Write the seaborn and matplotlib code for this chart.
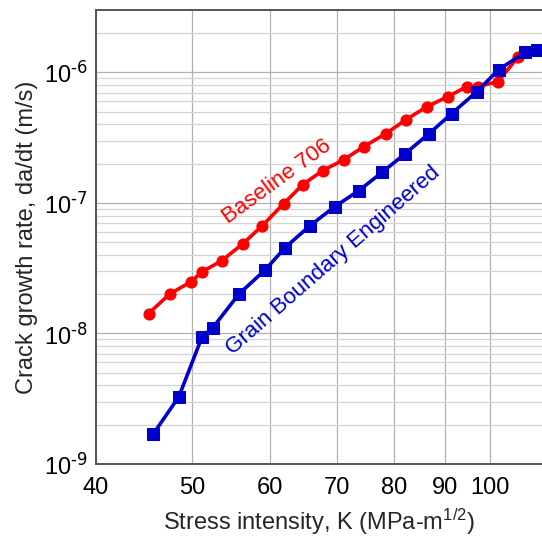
import numpy as np
import pandas as pd
import matplotlib
matplotlib.use('Agg')
import matplotlib.pyplot as plt
import matplotlib.ticker as mticker
import seaborn as sns

# values
baseline_k = [45.2, 47.5, 49.9, 51.2, 53.6, 56.3, 58.9, 61.9, 64.7, 67.8,
              71.2, 74.6, 78.5, 82.3, 86.4, 90.7, 94.8, 97.2, 101.9, 106.7]
baseline_rate = [1.42e-8, 2.01e-8, 2.49e-8, 2.97e-8, 3.61e-8, 4.87e-8, 6.69e-8, 9.86e-8,
                 1.38e-7, 1.77e-7, 2.14e-7, 2.70e-7, 3.39e-7, 4.35e-7, 5.46e-7, 6.52e-7,
                 7.77e-7, 7.77e-7, 8.49e-7, 1.30e-6]

gbe_k = [45.7, 48.5, 51.2, 52.5, 55.8, 59.3, 62.1, 65.8, 69.7, 73.7, 77.8, 82.1,
         86.8, 91.5, 97.0, 102.1, 108.5, 111.5]
gbe_rate = [1.70e-9, 3.27e-9, 9.44e-9, 1.11e-8, 2.01e-8, 3.07e-8, 4.54e-8, 6.69e-8,
            9.35e-8, 1.24e-7, 1.71e-7, 2.38e-7, 3.39e-7, 4.83e-7, 7.11e-7, 1.05e-6,
            1.42e-6, 1.49e-6]

x_ticks = [40, 50, 60, 70, 80, 90, 100]
y_exponents = [-9, -8, -7, -6]

sns.set_style('white')
plt.rcParams['font.family'] = ['Liberation Sans', 'DejaVu Sans']
plt.rcParams['mathtext.default'] = 'regular'

df_base = pd.DataFrame({'K': baseline_k, 'rate': baseline_rate})
df_gbe = pd.DataFrame({'K': gbe_k, 'rate': gbe_rate})

fig = plt.figure(figsize=(5.42, 5.39), dpi=100)
ax = fig.add_axes([0.1771, 0.1391, 0.8229, 0.8423])

sns.lineplot(data=df_base, x='K', y='rate', ax=ax, sort=False, color='#ff0000',
             marker='o', markersize=8, markeredgecolor='#ff0000', linewidth=2.6, zorder=3)
sns.lineplot(data=df_gbe, x='K', y='rate', ax=ax, sort=False, color='#0000cc',
             marker='s', markersize=8.5, markeredgecolor='#0000cc', linewidth=2.6, zorder=3)

ax.set_xscale('log')
ax.set_yscale('log')
ax.set_xlim(40, 112.9)
ax.set_ylim(1e-9, 3.0e-6)

ax.xaxis.set_major_locator(mticker.FixedLocator(x_ticks))
ax.xaxis.set_major_formatter(mticker.FixedFormatter([str(v) for v in x_ticks]))
ax.xaxis.set_minor_locator(mticker.NullLocator())

y_major = [10.0 ** e for e in y_exponents]
y_minor = [m * 10.0 ** e for e in y_exponents for m in range(2, 10) if m * 10.0 ** e < 3.0e-6]
ax.yaxis.set_major_locator(mticker.FixedLocator(y_major))
ax.yaxis.set_major_formatter(mticker.FixedFormatter(
    [r'$10^{\text{%d}}$' % e for e in y_exponents]))
ax.yaxis.set_minor_locator(mticker.FixedLocator(y_minor))
ax.yaxis.set_minor_formatter(mticker.NullFormatter())

ax.grid(True, which='major', color='#b0b0b0', linewidth=0.9)
ax.grid(True, which='minor', axis='y', color='#d4d4d4', linewidth=0.9)
ax.set_axisbelow(True)

ax.tick_params(axis='both', which='both', length=0, labelsize=17, colors='#000000')
ax.tick_params(axis='x', pad=9)
ax.tick_params(axis='y', pad=6)

for side in ['left', 'bottom', 'top']:
    ax.spines[side].set_color('#555555')
    ax.spines[side].set_linewidth(1.4)
ax.spines['right'].set_visible(False)

ax.set_xlabel('Stress intensity, K (MPa-m$^{1/2}$)', fontsize=17, labelpad=6)
ax.set_ylabel('Crack growth rate, da/dt (m/s)', fontsize=17, labelpad=4)

ax.text(61.0, 1.45e-7, 'Baseline 706', color='#ff0000', fontsize=16, rotation=36,
        ha='center', va='center')
ax.text(69.5, 3.6e-8, 'Grain Boundary Engineered', color='#0000cc', fontsize=16,
        rotation=41, ha='center', va='center')

fig.savefig('out.png', dpi=100)
